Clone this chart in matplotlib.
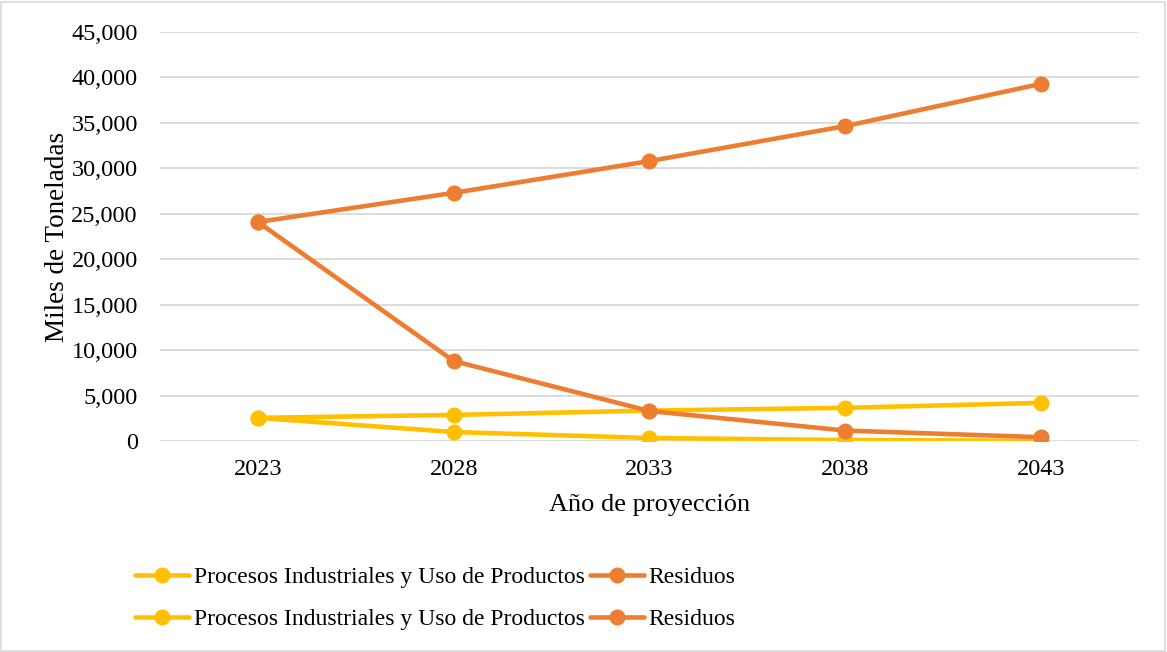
import matplotlib
matplotlib.use('Agg')
import matplotlib.pyplot as plt
from matplotlib.patches import Rectangle
from matplotlib.ticker import FuncFormatter

years = ['2023', '2028', '2033', '2038', '2043']
piup_a = [2550, 2870, 3350, 3650, 4200]
residuos_a = [24100, 27300, 30800, 34650, 39300]
piup_b = [2550, 990, 330, 110, 20]
residuos_b = [24100, 8800, 3300, 1150, 420]

yellow = '#FFC000'
orange = '#ED7D31'

plt.rcParams['font.family'] = ['Liberation Serif', 'DejaVu Serif']

fig = plt.figure(figsize=(11.67, 6.52), dpi=100)
ax = fig.add_axes([0.1371, 0.3236, 0.8389, 0.6273])

x = range(len(years))
style = dict(linewidth=3.3, marker='o', markersize=10.5, solid_capstyle='round')
l1, = ax.plot(x, piup_a, color=yellow, label='Procesos Industriales y Uso de Productos', **style)
l2, = ax.plot(x, residuos_a, color=orange, label='Residuos', **style)
l3, = ax.plot(x, piup_b, color=yellow, label='Procesos Industriales y Uso de Productos', **style)
l4, = ax.plot(x, residuos_b, color=orange, label='Residuos', **style)

ax.set_xlim(-0.5, 4.5)
ax.set_ylim(0, 45000)
ax.set_yticks(range(0, 45001, 5000))
ax.yaxis.set_major_formatter(FuncFormatter(lambda v, p: f'{int(v):,}'))
ax.set_xticks(list(x))
ax.set_xticklabels(years)
ax.grid(axis='y', color='#D9D9D9', linewidth=1.3)
ax.set_axisbelow(True)
for s in ax.spines.values():
    s.set_visible(False)
ax.tick_params(axis='both', length=0, labelsize=17.5, colors='#000000')
ax.tick_params(axis='y', pad=16)
ax.tick_params(axis='x', pad=13)

ax.set_xlabel('Año de proyección', fontsize=19, labelpad=10)
ax.set_ylabel('Miles de Toneladas', fontsize=19.5, labelpad=1)

fig.legend(handles=[l1, l3, l2, l4], loc='center', bbox_to_anchor=(0.373, 0.0825),
           ncol=2, frameon=False, fontsize=17, handlelength=2.3, handletextpad=0.2,
           columnspacing=0.2, labelspacing=0.88)

fig.patches.append(Rectangle((0.001, 0.002), 0.997, 0.995, transform=fig.transFigure,
                             fill=False, edgecolor='#D9D9D9', linewidth=1.2))

fig.savefig('out.png', dpi=100)
